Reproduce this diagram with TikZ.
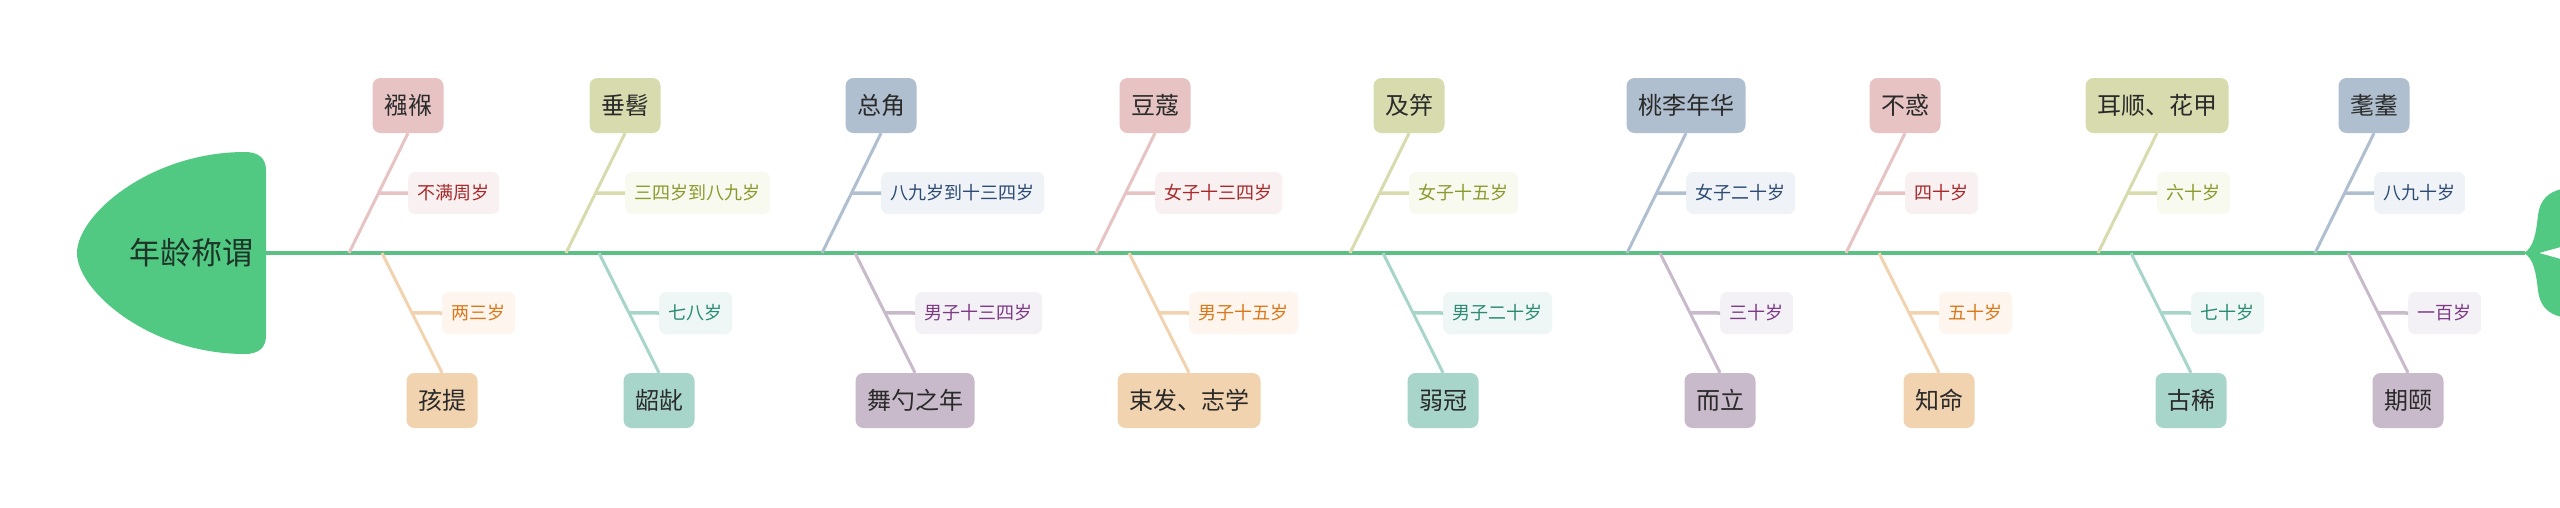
\documentclass[tikz,border=0pt]{standalone}
\usepackage{fontspec}
\newfontfamily\cjk{Noto Sans CJK SC}
\usetikzlibrary{calc}
\definecolor{pinkM}{HTML}{E7C3C3}\definecolor{pinkS}{HTML}{F9F1F1}\definecolor{pinkT}{HTML}{A8292B}
\definecolor{oliveM}{HTML}{D8DBAD}\definecolor{oliveS}{HTML}{F8F9EF}\definecolor{oliveT}{HTML}{8A9A2C}
\definecolor{blueM}{HTML}{B0BFCF}\definecolor{blueS}{HTML}{EFF3F7}\definecolor{blueT}{HTML}{2D4A73}
\definecolor{peachM}{HTML}{F2D3B0}\definecolor{peachS}{HTML}{FEF6EE}\definecolor{peachT}{HTML}{D9781A}
\definecolor{tealM}{HTML}{A8D5CA}\definecolor{tealS}{HTML}{EEF7F5}\definecolor{tealT}{HTML}{2A8A73}
\definecolor{mauveM}{HTML}{C9BACB}\definecolor{mauveS}{HTML}{F4F1F6}\definecolor{mauveT}{HTML}{7B3A83}
\definecolor{headgreen}{HTML}{52C983}
\definecolor{spinegreen}{HTML}{5CC086}
\definecolor{maintext}{HTML}{2A2A2A}
\definecolor{headtext}{HTML}{1C3526}
\newcommand\upbone[5]{%
  \coordinate (#1s) at (#2-59,253);
  \node[mainbox, fill=#5M] (#1) at (#2,105.5) {#3};
  \node[subbox, fill=#5S, text=#5T] (#1t) at (#2,193) {#4};
  \draw[bone, draw=#5M] (#1s) -- (#1.south);
  \coordinate (#1m) at ($(#1s)!0.5!(#1.south)$);
  \draw[subbone, draw=#5M] (#1m) -- (#1t.west);
}
\newcommand\downbone[5]{%
  \coordinate (#1s) at (#2-60,253);
  \node[mainbox, fill=#5M] (#1) at (#2,400.5) {#3};
  \node[subbox, fill=#5S, text=#5T] (#1t) at (#2,313) {#4};
  \draw[bone, draw=#5M] (#1s) -- (#1.north);
  \coordinate (#1m) at ($(#1s)!0.5!(#1.north)$);
  \draw[subbone, draw=#5M] (#1m) -- (#1t.west);
}
\begin{document}
\begin{tikzpicture}[x=1pt,y=-1pt,
  mainbox/.style={rounded corners=8pt, minimum height=55pt, inner xsep=11.5pt, inner ysep=0pt,
    font=\cjk\fontsize{24}{28}\selectfont, text=maintext},
  subbox/.style={rounded corners=7pt, minimum height=42pt, inner xsep=9.5pt, inner ysep=0pt,
    font=\cjk\fontsize{18}{22}\selectfont, anchor=west},
  bone/.style={line width=3pt},
  subbone/.style={line width=3.5pt},
  spine/.style={line width=3.5pt, draw=spinegreen}]
\clip (0,0) rectangle (2560,507);
\fill[white] (0,0) rectangle (2560,507);
% head
\fill[headgreen] (77,253) .. controls (77,215) and (150,152) .. (245,152)
  .. controls (258,152) and (266,158) .. (266,170) -- (266,336)
  .. controls (266,348) and (258,354) .. (245,354)
  .. controls (150,354) and (77,291) .. (77,253) -- cycle;
\node[font=\cjk\fontsize{31}{36}\selectfont, text=headtext] (head) at (191,253) {年龄称谓};
\coordinate (headR) at (266,253);
\coordinate (tailL) at (2525,253);
% tail
\fill[headgreen] (2524,253) .. controls (2533,248) and (2536,235) .. (2538,215)
  .. controls (2540,200) and (2548,192) .. (2562,189) -- (2575,187) -- (2575,243)
  -- (2539,253) -- (2575,263) -- (2575,319) -- (2562,317)
  .. controls (2548,314) and (2540,306) .. (2538,291)
  .. controls (2536,271) and (2533,258) .. (2524,253) -- cycle;
\draw[spine] (headR) -- (tailL);
% top bones
\upbone{a1}{408}{襁褓}{不满周岁}{pink}
\upbone{a2}{625}{垂髫}{三四岁到八九岁}{olive}
\upbone{a3}{881}{总角}{八九岁到十三四岁}{blue}
\upbone{a4}{1155}{豆蔻}{女子十三四岁}{pink}
\upbone{a5}{1409}{及笄}{女子十五岁}{olive}
\upbone{a6}{1686}{桃李年华}{女子二十岁}{blue}
\upbone{a7}{1905}{不惑}{四十岁}{pink}
\upbone{a8}{2157}{耳顺、花甲}{六十岁}{olive}
\upbone{a9}{2374}{耄耋}{八九十岁}{blue}
% bottom bones
\downbone{b1}{442}{孩提}{两三岁}{peach}
\downbone{b2}{659}{龆龀}{七八岁}{teal}
\downbone{b3}{915}{舞勺之年}{男子十三四岁}{mauve}
\downbone{b4}{1189}{束发、志学}{男子十五岁}{peach}
\downbone{b5}{1443}{弱冠}{男子二十岁}{teal}
\downbone{b6}{1720}{而立}{三十岁}{mauve}
\downbone{b7}{1939}{知命}{五十岁}{peach}
\downbone{b8}{2191}{古稀}{七十岁}{teal}
\downbone{b9}{2408}{期颐}{一百岁}{mauve}
\end{tikzpicture}
\end{document}
